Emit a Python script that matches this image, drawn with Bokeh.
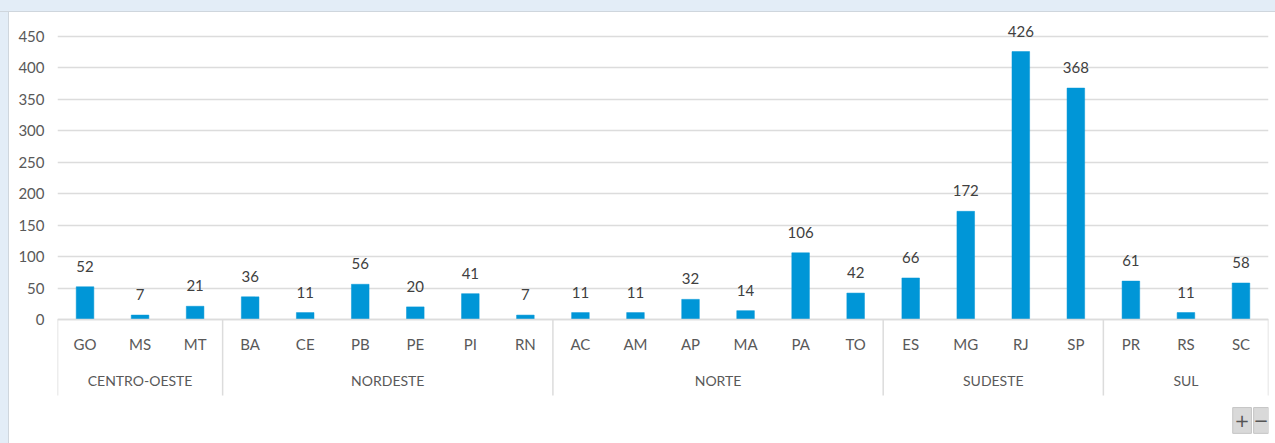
from bokeh.plotting import figure
from bokeh.models import (FactorRange, Range1d, FixedTicker, LabelSet, ColumnDataSource,
                          GlobalInlineStyleSheet)
from bokeh.core.properties import value
from bokeh.embed import file_html
from bokeh.resources import INLINE

# ---- data ----
regions = ["CENTRO-OESTE"] * 3 + ["NORDESTE"] * 6 + ["NORTE"] * 6 + ["SUDESTE"] * 4 + ["SUL"] * 3
states = ["GO", "MS", "MT",
          "BA", "CE", "PB", "PE", "PI", "RN",
          "AC", "AM", "AP", "MA", "PA", "TO",
          "ES", "MG", "RJ", "SP",
          "PR", "RS", "SC"]
values = [52, 7, 21,
          36, 11, 56, 20, 41, 7,
          11, 11, 32, 14, 106, 42,
          66, 172, 426, 368,
          61, 11, 58]
y_ticks = [0, 50, 100, 150, 200, 250, 300, 350, 400, 450]

FONT = "Lato"
BAR = "#0096d7"
GRID = "#dcdcdc"

factors = list(zip(regions, states))
src = ColumnDataSource(dict(x=factors, top=values, label=[str(v) for v in values]))

x_range = FactorRange(*factors, range_padding=0, group_padding=0,
                      subgroup_padding=0, factor_padding=0)

p = figure(width=1272, height=435, x_range=x_range, y_range=Range1d(-184.5, 485),
           output_backend="svg", toolbar_location=None,
           min_border_left=57, min_border_right=4, min_border_top=14, min_border_bottom=0)

p.stylesheets = [GlobalInlineStyleSheet(css="""
body { background:
  linear-gradient(#e3edf7, #e3edf7) 0 0 / 100% 11px no-repeat,
  linear-gradient(#cfd6dd, #cfd6dd) 0 11px / 100% 1px no-repeat,
  linear-gradient(#e3edf7, #e3edf7) 0 0 / 8px 100% no-repeat,
  linear-gradient(#cfd6dd, #cfd6dd) 8px 11px / 1px 100% no-repeat,
  #ffffff; }
""")]

p.border_fill_color = None
p.background_fill_color = "white"
p.outline_line_color = None

# bars
p.vbar(x="x", top="top", width=0.32, source=src, fill_color=BAR, line_color=BAR, line_width=0.5)

# group separators (at group boundaries), extending below the axis
sep_x = []
for i, (g, s) in enumerate(factors):
    if i == 0 or regions[i - 1] != g:
        sep_x.append((g, s, -0.5))
sep_x.append((regions[-1], states[-1], 0.5))
p.segment(x0=sep_x, x1=sep_x, y0=[0] * len(sep_x), y1=[-121] * len(sep_x),
          line_color=GRID, line_width=1.5)

# value labels
labels = LabelSet(x="x", y="top", text="label", source=src, x_offset=0, y_offset=15,
                  text_align="center", text_baseline="alphabetic",
                  text_font=value(FONT), text_font_size="15px", text_color="#404040")
p.add_layout(labels)

# zoom buttons (decoration)
p.rect(x=[21.52, 21.865], y=[-160.6, -160.6], width=[0.34, 0.27], height=41,
       fill_color="#d9d9d9", line_color="#c4c4c4", line_width=1)
p.text(x=[21.52, 21.865], y=[-160.6, -160.6], text=["+", "\u2212"], text_align="center",
       text_baseline="middle", text_font_size="18px", text_color="#555555",
       text_font=value("DejaVu Sans"))

# y axis
p.yaxis.ticker = FixedTicker(ticks=y_ticks)
p.yaxis.axis_line_color = None
p.yaxis.major_tick_line_color = None
p.yaxis.minor_tick_line_color = None
p.yaxis.major_tick_in = 0
p.yaxis.major_tick_out = 0
p.yaxis.major_label_standoff = 13
p.yaxis.major_label_text_font = FONT
p.yaxis.major_label_text_font_size = "15px"
p.yaxis.major_label_text_color = "#595959"

p.ygrid.ticker = FixedTicker(ticks=y_ticks)
p.ygrid.grid_line_color = GRID
p.ygrid.grid_line_width = 1.5
p.xgrid.grid_line_color = None

# x axis (categorical, two levels) fixed at y = 0
xa = p.xaxis[0]
xa.fixed_location = 0
xa.axis_line_color = GRID
xa.axis_line_width = 1.5
xa.major_tick_line_color = None
xa.minor_tick_line_color = None
xa.major_tick_in = 0
xa.major_tick_out = 0
xa.major_label_standoff = 16
xa.major_label_text_font = FONT
xa.major_label_text_font_size = "15px"
xa.major_label_text_color = "#595959"
xa.group_text_font = FONT
xa.group_text_font_size = "14px"
xa.group_text_color = "#595959"
xa.group_text_font_style = "normal"
xa.separator_line_color = None

open("out.html", "w").write(file_html(p, INLINE))
